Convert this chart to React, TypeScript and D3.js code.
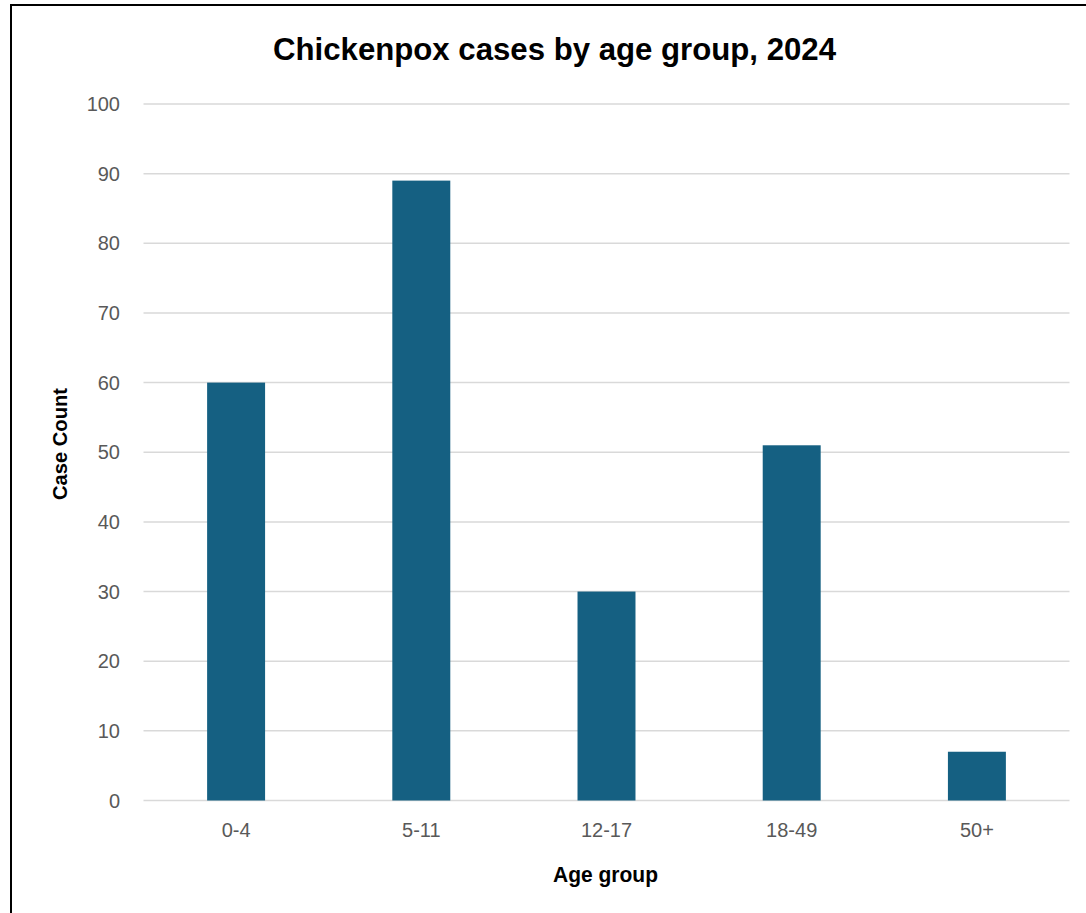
import React from "react";
import * as d3 from "d3";

const categories = ["0-4", "5-11", "12-17", "18-49", "50+"];
const caseCounts = [60, 89, 30, 51, 7];
const yTicks = [0, 10, 20, 30, 40, 50, 60, 70, 80, 90, 100];
const title = "Chickenpox cases by age group, 2024";
const xTitle = "Age group";
const yTitle = "Case Count";

export default function App() {
  const W = 1086;
  const H = 913;
  const plotLeft = 143.5;
  const plotRight = 1069.5;
  const y = d3.scaleLinear().domain([0, 100]).range([800.5, 104]);
  const x = d3.scaleBand<string>().domain(categories).range([plotLeft, plotRight]).padding(0);
  const barW = x.bandwidth() * 0.313;
  const font = "'Liberation Sans', Arial, sans-serif";

  return (
    <svg
      width={W}
      height={H}
      style={{ position: "absolute", left: 0, top: 0, background: "#fff" }}
      fontFamily={font}
    >
      <rect x={0} y={0} width={W} height={H} fill="#fff" />
      <rect x={11} y={5} width={1200} height={1000} fill="#fff" stroke="#000" strokeWidth={2} />
      <text
        x={554.5}
        y={59.5}
        textAnchor="middle"
        fontSize={31}
        fontWeight="bold"
        fill="#000"
        textLength={563}
        lengthAdjust="spacingAndGlyphs"
      >
        {title}
      </text>
      {yTicks.map((t) => (
        <g key={t}>
          <line x1={plotLeft} x2={plotRight} y1={y(t)} y2={y(t)} stroke="#d9d9d9" strokeWidth={1.5} />
          <text x={120} y={y(t)} dy="0.35em" textAnchor="end" fontSize={20} fill="#595959">
            {t}
          </text>
        </g>
      ))}
      {categories.map((c, i) => {
        const cx = (x(c) as number) + x.bandwidth() / 2;
        return (
          <g key={c}>
            <rect
              x={cx - barW / 2}
              y={y(caseCounts[i])}
              width={barW}
              height={y(0) - y(caseCounts[i])}
              fill="#156082"
            />
            <text x={cx} y={830} dy="0.35em" textAnchor="middle" fontSize={20} fill="#595959">
              {c}
            </text>
          </g>
        );
      })}
      <text
        x={605.5}
        y={882}
        textAnchor="middle"
        fontSize={22}
        fontWeight="bold"
        fill="#000"
        textLength={105}
        lengthAdjust="spacingAndGlyphs"
      >
        {xTitle}
      </text>
      <text
        transform={`translate(67,444) rotate(-90)`}
        textAnchor="middle"
        fontSize={21}
        fontWeight="bold"
        fill="#000"
        textLength={112}
        lengthAdjust="spacingAndGlyphs"
      >
        {yTitle}
      </text>
    </svg>
  );
}
